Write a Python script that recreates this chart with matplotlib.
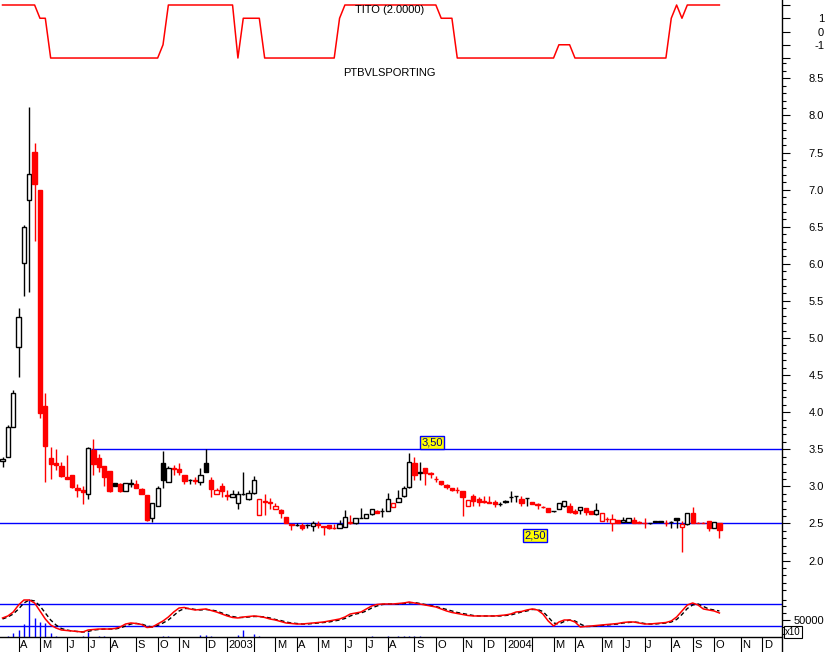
import numpy as np
import pandas as pd
import matplotlib
matplotlib.use('Agg')
import matplotlib.pyplot as plt
from matplotlib.lines import Line2D
from matplotlib.ticker import FixedLocator, FormatStrFormatter

plt.rcParams['font.family'] = ['Liberation Sans', 'DejaVu Sans']

# weekly bars, dated on the friday of each week
dates = pd.date_range('2002-03-15', periods=135, freq='W-FRI')

opens = [3.34, 3.40, 3.80, 4.88, 6.01, 6.86, 7.51, 7.00, 4.08, 3.38,
         3.31, 3.28, 3.13, 3.15, 2.98, 2.95, 2.90, 3.49, 3.38, 3.27,
         3.21, 3.04, 3.03, 2.94, 3.03, 3.03, 2.96, 2.88, 2.57, 2.73,
         3.31, 3.06, 3.25, 3.23, 3.15, 3.08, 3.08, 3.06, 3.31, 3.09,
         2.90, 3.01, 2.89, 2.86, 2.78, 2.90, 2.83, 2.91, 2.61, 2.80,
         2.79, 2.70, 2.68, 2.59, 2.49, 2.48, 2.48, 2.48, 2.47, 2.49,
         2.46, 2.48, 2.445, 2.44, 2.45, 2.52, 2.50, 2.575, 2.575, 2.63,
         2.67, 2.665, 2.67, 2.72, 2.79, 2.87, 2.99, 3.32, 3.18, 3.25,
         3.185, 3.10, 3.07, 3.02, 2.98, 2.95, 2.94, 2.74, 2.87, 2.83,
         2.80, 2.785, 2.79, 2.76, 2.80, 2.855, 2.87, 2.83, 2.845, 2.79,
         2.76, 2.725, 2.71, 2.665, 2.70, 2.73, 2.73, 2.67, 2.68, 2.71,
         2.67, 2.63, 2.53, 2.565, 2.51, 2.55, 2.52, 2.52, 2.55, 2.52,
         2.505, 2.50, 2.535, 2.54, 2.505, 2.515, 2.575, 2.45, 2.49, 2.64,
         2.51, 2.505, 2.53, 2.44, 2.51]
highs = [3.39, 3.83, 4.30, 5.40, 6.52, 8.11, 7.63, 7.00, 4.26, 3.53,
         3.50, 3.33, 3.42, 3.15, 3.03, 3.00, 3.53, 3.64, 3.44, 3.27,
         3.21, 3.04, 3.05, 3.05, 3.10, 3.08, 2.98, 2.88, 2.78, 3.00,
         3.48, 3.27, 3.29, 3.31, 3.15, 3.10, 3.13, 3.25, 3.50, 3.13,
         2.98, 3.05, 2.95, 2.95, 2.94, 3.19, 2.95, 3.14, 2.83, 2.90,
         2.84, 2.78, 2.69, 2.59, 2.49, 2.50, 2.51, 2.49, 2.53, 2.53,
         2.47, 2.48, 2.49, 2.55, 2.68, 2.61, 2.57, 2.71, 2.63, 2.70,
         2.68, 2.71, 2.91, 2.78, 2.95, 3.00, 3.45, 3.40, 3.33, 3.25,
         3.19, 3.14, 3.07, 3.03, 2.98, 2.99, 2.94, 2.82, 2.90, 2.86,
         2.87, 2.87, 2.82, 2.79, 2.82, 2.94, 2.87, 2.87, 2.85, 2.79,
         2.77, 2.73, 2.71, 2.67, 2.78, 2.80, 2.78, 2.69, 2.72, 2.71,
         2.67, 2.78, 2.64, 2.59, 2.63, 2.55, 2.59, 2.57, 2.59, 2.53,
         2.57, 2.51, 2.54, 2.54, 2.55, 2.53, 2.58, 2.53, 2.64, 2.72,
         2.52, 2.52, 2.53, 2.52, 2.51]
lows = [3.26, 3.40, 3.80, 4.47, 5.57, 5.62, 6.31, 3.92, 3.06, 3.10,
        3.22, 3.12, 3.10, 2.98, 2.86, 2.76, 2.83, 3.15, 3.19, 3.00,
        2.93, 3.00, 2.93, 2.94, 2.99, 2.98, 2.90, 2.54, 2.52, 2.73,
        2.98, 3.06, 3.15, 3.16, 3.03, 3.03, 3.03, 3.02, 3.19, 2.86,
        2.90, 2.86, 2.82, 2.86, 2.70, 2.88, 2.82, 2.90, 2.61, 2.62,
        2.70, 2.70, 2.57, 2.50, 2.41, 2.46, 2.41, 2.44, 2.40, 2.44,
        2.34, 2.42, 2.43, 2.44, 2.45, 2.49, 2.49, 2.57, 2.57, 2.62,
        2.64, 2.59, 2.67, 2.72, 2.79, 2.86, 2.98, 3.09, 3.09, 3.02,
        3.11, 3.06, 3.02, 2.96, 2.94, 2.91, 2.60, 2.74, 2.74, 2.74,
        2.78, 2.78, 2.72, 2.73, 2.78, 2.79, 2.79, 2.74, 2.74, 2.76,
        2.70, 2.71, 2.65, 2.66, 2.70, 2.72, 2.64, 2.63, 2.63, 2.61,
        2.63, 2.62, 2.53, 2.52, 2.40, 2.51, 2.52, 2.52, 2.50, 2.50,
        2.44, 2.49, 2.52, 2.52, 2.46, 2.44, 2.44, 2.12, 2.48, 2.50,
        2.50, 2.50, 2.40, 2.44, 2.30]
closes = [3.37, 3.80, 4.26, 5.28, 6.50, 7.21, 7.08, 3.99, 3.55, 3.30,
          3.29, 3.14, 3.10, 2.99, 2.95, 2.93, 3.52, 3.30, 3.26, 3.12,
          2.94, 3.00, 2.94, 3.04, 3.04, 2.98, 2.90, 2.55, 2.78, 2.98,
          3.09, 3.25, 3.24, 3.19, 3.07, 3.09, 3.07, 3.15, 3.19, 2.96,
          2.95, 2.94, 2.87, 2.90, 2.90, 2.90, 2.91, 3.08, 2.83, 2.79,
          2.78, 2.735, 2.64, 2.51, 2.48, 2.485, 2.44, 2.48, 2.51, 2.48,
          2.45, 2.44, 2.435, 2.49, 2.59, 2.51, 2.57, 2.58, 2.63, 2.70,
          2.64, 2.67, 2.83, 2.78, 2.84, 2.98, 3.33, 3.15, 3.19, 3.18,
          3.17, 3.095, 3.03, 2.99, 2.95, 2.945, 2.86, 2.82, 2.80, 2.79,
          2.785, 2.78, 2.76, 2.765, 2.79, 2.86, 2.87, 2.78, 2.84, 2.76,
          2.755, 2.72, 2.655, 2.67, 2.78, 2.80, 2.66, 2.64, 2.72, 2.655,
          2.63, 2.68, 2.64, 2.56, 2.555, 2.51, 2.545, 2.57, 2.51, 2.505,
          2.50, 2.505, 2.52, 2.525, 2.50, 2.52, 2.55, 2.49, 2.64, 2.51,
          2.505, 2.50, 2.44, 2.52, 2.41]

# TITO(2) indicator, top panel
tito = ([2] * 7 + [1] * 2 + [-2] * 21 + [-1] + [2] * 13 + [-2] + [1] * 4 +
        [-2] * 14 + [1] + [2] * 18 + [1] * 3 + [-2] * 19 + [-1] * 3 +
        [-2] * 18 + [1, 2, 1] + [2] * 7)

# lower panel: volume bars, oscillator (red) and its signal (dashed)
volume = [0, 4400, 11800, 20600, 38200, 111800, 55900, 44100, 41200, 11800,
          2900, 0, 0, 0, 0, 2900, 14700, 0, 2900, 2900,
          0, 0, 0, 0, 0, 0, 0, 0, 0, 0,
          2900, 2900, 0, 0, 0, 0, 0, 5900, 5900, 2900,
          0, 0, 0, 0, 5900, 20600, 0, 8800, 2900, 0,
          0, 0, 0, 0, 0, 0, 0, 0, 0, 0,
          0, 0, 0, 0, 0, 0, 0, 0, 0, 2900,
          0, 0, 2900, 0, 2900, 2900, 2900, 2900, 2900, 0] + [0] * 55
osc = [55900, 61800, 73500, 94100, 108800, 108800, 100000, 76500, 52900, 35300,
       26500, 20600, 19100, 17600, 16200, 14700, 20600, 22100, 23500, 23500,
       23500, 25000, 29400, 38200, 41200, 39700, 36800, 27900, 29400, 38200,
       47100, 58800, 73500, 85300, 86800, 82400, 79400, 80900, 82400, 77900,
       73500, 67600, 61800, 57400, 55900, 58800, 60300, 61800, 60300, 57400,
       52900, 50000, 45600, 41200, 39700, 38200, 38200, 39700, 41200, 42600,
       44100, 47100, 50000, 52900, 58800, 67600, 70600, 73500, 82400, 91200,
       95600, 97100, 97100, 97100, 98500, 100000, 102900, 100000, 97100, 94100,
       91200, 88200, 82400, 76500, 72100, 69100, 66200, 63200, 61800, 61800,
       61800, 61800, 61800, 63200, 64700, 67600, 73500, 75000, 79400, 82400,
       79400, 67600, 47100, 32400, 44100, 50000, 50000, 44100, 29400, 30900,
       32400, 33800, 35300, 36800, 38200, 39700, 42600, 44100, 44100, 41200,
       38200, 38200, 39700, 41200, 42600, 47100, 58800, 76500, 94100, 100000,
       94100, 82400, 79400, 76500, 70600]
osc_signal = [52900, 58800, 67600, 82400, 100000, 108800, 105900, 91200, 70600, 50000,
              35300, 25000, 20600, 17600, 16200, 14700, 16200, 20600, 22100, 23500,
              23500, 23500, 26500, 32400, 38200, 39700, 38200, 32400, 29400, 33800,
              41200, 50000, 63200, 76500, 83800, 83800, 80900, 79400, 80900, 79400,
              76500, 70600, 64700, 60300, 57400, 57400, 58800, 60300, 60300, 58800,
              55900, 51500, 48500, 44100, 41200, 39700, 38200, 38200, 39700, 41200,
              42600, 44100, 47100, 50000, 54400, 61800, 67600, 70600, 76500, 85300,
              91200, 95600, 97100, 97100, 97100, 98500, 100000, 101500, 98500, 95600,
              92600, 89700, 85300, 80900, 76500, 72100, 69100, 66200, 63200, 61800,
              61800, 61800, 61800, 61800, 63200, 64700, 69100, 73500, 76500, 80900,
              80900, 75000, 58800, 41200, 38200, 45600, 50000, 47100, 38200, 30900,
              30900, 32400, 33800, 35300, 36800, 38200, 41200, 42600, 44100, 42600,
              39700, 38200, 38200, 39700, 41200, 44100, 51500, 66200, 83800, 94100,
              97100, 89700, 82400, 79400, 76500]
osc_levels = [97100, 32400]

resistance = 3.50
support = 2.50

W, H = 829, 652
RED = '#ff0000'
BLUE = '#0000ff'

fig = plt.figure(figsize=(W / 100, H / 100), dpi=100)


def px_axes(top, bottom):
    return fig.add_axes([0, 1 - bottom / H, 782 / W, (bottom - top) / H])


ax_top = px_axes(0, 62)
ax = px_axes(62, 597)
ax_vol = px_axes(597, 637)

x = np.arange(len(dates))
xlim = (-0.47, 145.7)
for a in (ax_top, ax, ax_vol):
    a.set_xlim(*xlim)
    a.set_facecolor('none')
    for s in a.spines.values():
        s.set_visible(False)
    a.yaxis.tick_right()
    a.set_xticks([])
    a.tick_params(axis='y', which='major', length=5.8, width=0.8,
                  pad=24.5, labelsize=8, colors='black')
    a.tick_params(axis='y', which='minor', length=2.6, width=0.8)

# ---- candles
o = np.array(opens)
h = np.array(highs)
l = np.array(lows)
c = np.array(closes)
prev = np.r_[c[0], c[:-1]]
col = np.where(c >= prev, 'black', RED)
face = np.where(c < o, col, 'white')
ax.vlines(x, l, h, colors=col, lw=1.0, zorder=2)
ax.bar(x, np.maximum(np.abs(c - o), 0.004), bottom=np.minimum(o, c), width=0.8,
       color=face, edgecolor=col, linewidth=1.0, zorder=3)

hi_idx = int(np.argmax(h[10:40])) + 10
ax.hlines(resistance, x[hi_idx] - 0.4, xlim[1], colors=BLUE, lw=1.0, zorder=1)
ax.axhline(support, color=BLUE, lw=1.0, zorder=1)
box = dict(boxstyle='square,pad=0.12', fc='#ffff00', ec=BLUE, lw=1)
ax.annotate('3,50', (80.3, resistance), xytext=(0, 1.5), textcoords='offset points',
            ha='center', va='bottom', fontsize=8, color='#000080', bbox=box)
ax.annotate('2,50', (99.6, support), xytext=(0, -5), textcoords='offset points',
            ha='center', va='top', fontsize=8, color='#000080', bbox=box)

ax.set_ylim(1.509, 8.72)
ax.set_yticks(np.arange(2.0, 8.51, 0.5))
ax.yaxis.set_minor_locator(FixedLocator(np.arange(1.5, 8.71, 0.1)))
ax.yaxis.set_major_formatter(FormatStrFormatter('%.1f'))

# ---- TITO
ax_top.plot(x, tito, color=RED, lw=1.1)
ax_top.set_ylim(-2.30, 2.377)
ax_top.set_yticks([2, 1, 0, -1, -2])
ax_top.set_yticklabels(['', '1', '0', '-1', ''])

# ---- lower panel
for lev in osc_levels:
    ax_vol.axhline(lev, color=BLUE, lw=1.0, zorder=1)
vol = np.array(volume)
nz = vol > 0
ax_vol.vlines(x[nz], 0, vol[nz], colors=BLUE, lw=1.0, zorder=2)
ax_vol.plot(x, osc_signal, color='black', lw=1.0, dashes=(3, 2), zorder=3)
ax_vol.plot(x, osc, color=RED, lw=1.1, zorder=4)
ax_vol.set_ylim(0, 117600)
ax_vol.set_yticks([50000])
ax_vol.set_yticklabels(['50000'])
ax_vol.yaxis.set_minor_locator(FixedLocator([10000, 30000, 70000, 90000, 110000]))

ax_vol.spines['bottom'].set_visible(True)
ax_vol.spines['bottom'].set_linewidth(1.0)

# month ticks on the first weekly bar of each month
all_dates = pd.date_range(dates[0], periods=146, freq='W-FRI')
months = all_dates.month
first = [i for i in range(1, len(all_dates)) if months[i] != months[i - 1]]
ax_vol.set_xticks(first)
ax_vol.tick_params(axis='x', length=10.8, width=0.8, labelbottom=False)
for i in first:
    m = months[i]
    if m == 1:
        lab = str(all_dates[i].year)
    elif m == 2:
        lab = ''
    else:
        lab = 'JFMAMJJASOND'[m - 1]
    ax_vol.annotate(lab, (i, 0), xycoords=('data', 'axes fraction'),
                    xytext=(1.2, -5.8), textcoords='offset points',
                    ha='left', va='center', fontsize=8)

for a in (ax_top, ax, ax_vol):
    for t in a.get_yticklabels():
        t.set_horizontalalignment('right')

fig.add_artist(Line2D([782.5 / W] * 2, [0, 1], transform=fig.transFigure,
                      color='black', lw=1.0))
fig.text(390 / W, 1 - 10 / H, 'TITO (2.0000)', ha='center', va='center', fontsize=8)
fig.text(389 / W, 1 - 73 / H, 'PTBVLSPORTING', ha='center', va='center', fontsize=8)
fig.text(785 / W, 1 - 632 / H, 'x10', ha='left', va='center', fontsize=7,
         bbox=dict(boxstyle='square,pad=0.15', fc='white', ec='black', lw=0.8))

fig.savefig('out.png', dpi=100)
